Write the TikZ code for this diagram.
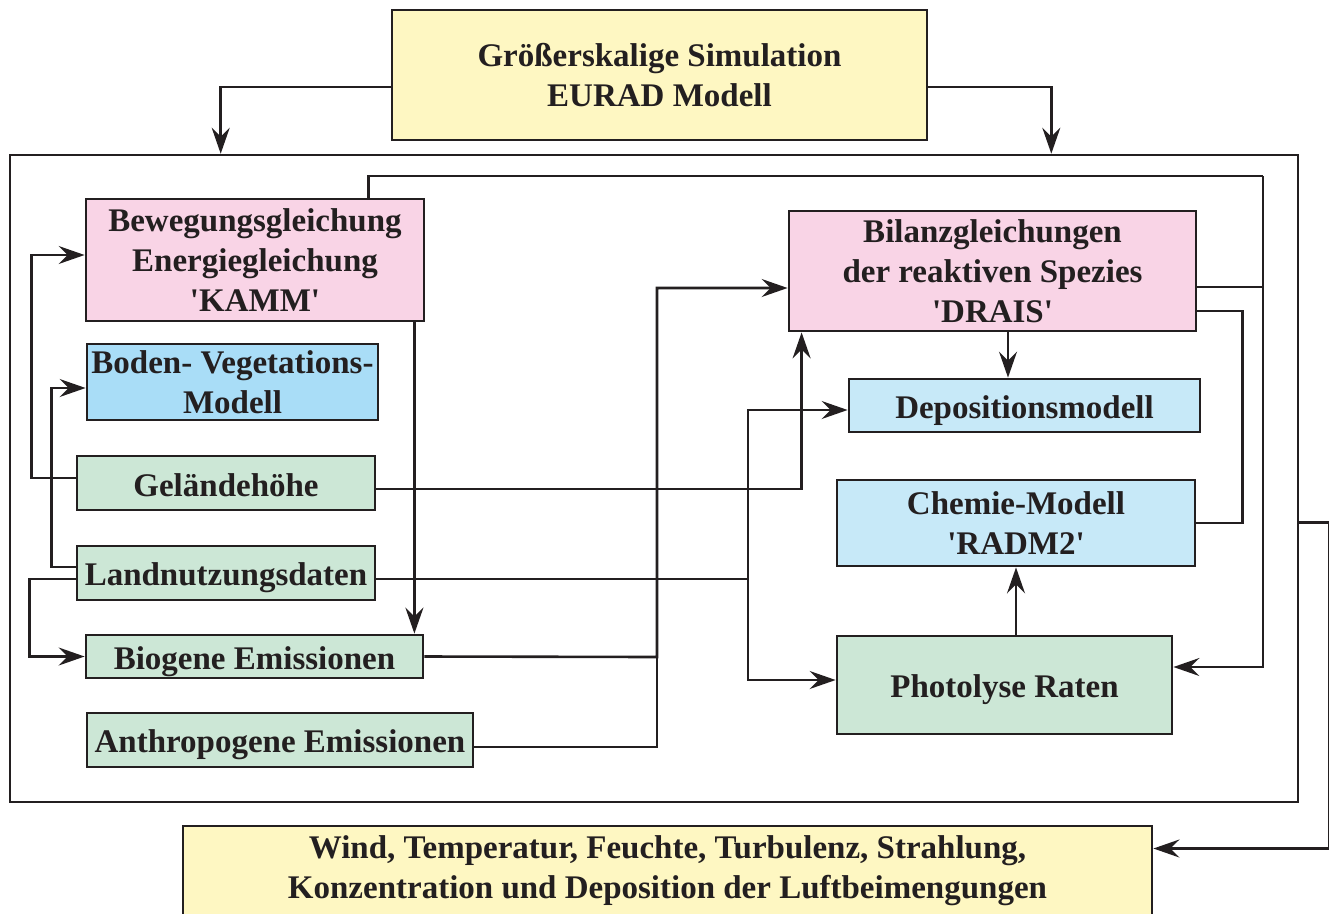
\documentclass[tikz,border=0pt]{standalone}
\usepackage{fontspec}
\setmainfont{Liberation Serif}
\usetikzlibrary{arrows.meta}
\definecolor{ink}{HTML}{231F20}
\definecolor{cyellow}{HTML}{FEF7C2}
\definecolor{cpink}{HTML}{F9D4E6}
\definecolor{cblue}{HTML}{A9DDF7}
\definecolor{clightblue}{HTML}{C7E9F8}
\definecolor{cgreen}{HTML}{CCE7D6}
\newcommand{\q}{\textquotesingle}
\tikzset{
  box/.style={draw=ink, line width=2.8pt, align=center, inner sep=0pt,
    text=ink, font=\fontsize{33}{40}\selectfont\bfseries},
  single/.style={box,
    execute at begin node={\rule{0pt}{33pt}},
    execute at end node={\rule[-7pt]{0pt}{7pt}}},
  multi/.style={box, execute at begin node={\rule{0pt}{#1}}},
  multi/.default=30pt,
  link/.style={draw=ink, line width=2.6pt},
  arr/.style={link, -{Stealth[length=26pt,width=18pt,inset=9pt]}},
}
\begin{document}
\begin{tikzpicture}[x=1pt,y=-1pt]
\useasboundingbox (0,0) rectangle (1329,913);

% outer frame of the regional model
\node[draw=ink, line width=2.6pt, minimum width=1288pt, minimum height=647pt, inner sep=0pt] (frame) at (654,478.5) {};

% boxes
\node[multi=34pt, fill=cyellow, minimum width=535pt, minimum height=130pt] (top) at (659.5,75) {Größerskalige Simulation\\EURAD Modell};
\node[multi=32pt, fill=cpink, minimum width=338pt, minimum height=122pt] (kamm) at (255,260) {Bewegungsgleichung\\Energiegleichung\\\q KAMM\q};
\node[multi, fill=cblue, minimum width=291pt, minimum height=76pt] (boden) at (232.5,382) {Boden- Vegetations-\\Modell};
\node[single, fill=cgreen, minimum width=298pt, minimum height=54pt] (geo) at (226,483) {Geländehöhe};
\node[single, fill=cgreen, minimum width=298pt, minimum height=54pt] (land) at (226,573) {Landnutzungsdaten};
\node[single, fill=cgreen, minimum width=337pt, minimum height=43pt] (bio) at (254.5,656.5) {Biogene Emissionen};
\node[single, fill=cgreen, minimum width=386pt, minimum height=54pt] (anth) at (280,740) {Anthropogene Emissionen};
\node[multi=33pt, fill=cpink, minimum width=407pt, minimum height=120pt] (bil) at (992.5,271) {Bilanzgleichungen\\der reaktiven Spezies\\\q DRAIS\q};
\node[single, fill=clightblue, minimum width=351pt, minimum height=53pt] (dep) at (1024.5,405.5) {Depositionsmodell};
\node[multi, fill=clightblue, minimum width=358pt, minimum height=86pt] (chem) at (1016,523) {Chemie-Modell\\\q RADM2\q};
\node[single, fill=cgreen, minimum width=335pt, minimum height=98pt] (phot) at (1004.5,685) {Photolyse Raten};
\node[multi=40pt, fill=cyellow, minimum width=969pt, minimum height=89pt] (bot) at (667.5,870.5) {Wind, Temperatur, Feuchte, Turbulenz, Strahlung,\\Konzentration und Deposition der Luftbeimengungen};

% junction points
\coordinate (rt) at (1263,176);
\coordinate (emis) at (657,657);
\coordinate (lnd) at (748,579);

% boundary values from the large-scale model
\draw[arr] ([yshift=-12pt]top.west) -| ([xshift=212pt]frame.north west);
\draw[arr] ([yshift=-12pt]top.east) -| ([xshift=-248pt]frame.north east);

% left-hand inputs
\draw[arr] ([yshift=5pt]geo.west) -- ++(-44,0) |- ([yshift=5pt]kamm.west);
\draw[arr] ([yshift=6pt]land.west) -- ++(-24,0) |- ([yshift=-6pt]boden.west);
\draw[arr] ([yshift=-6pt]land.west) -- ++(-46,0) |- (bio.west);
\draw[arr] ([xshift=-11pt]kamm.south east) -- ([xshift=-11pt]kamm.south east |- bio.north);

% meteorology to the chemistry side
\draw[link] ([xshift=-57pt]kamm.north east) |- (rt);
\draw[arr] (rt) |- ([yshift=18pt]phot.east);
\draw[link] ([yshift=-16pt]bil.east) -- ++(67,0);
\draw[link] ([yshift=-40pt]bil.east) -- ++(45,0) |- (chem.east);

% terrain height
\draw[arr] ([yshift=-6pt]geo.east) -| ([xshift=14pt]bil.south west);

% emissions
\draw[arr] (bio.east) -- (emis) |- ([yshift=-17pt]bil.west);
\draw[link] ([yshift=-7pt]anth.east) -| (emis);

% land use
\draw[link] ([yshift=-6pt]land.east) -- (lnd);
\draw[arr] (lnd) |- ([yshift=-4.5pt]dep.west);
\draw[arr] (lnd) |- ([yshift=5pt]phot.west);

% right-hand chain
\draw[arr] ([xshift=15.5pt]bil.south) -- ([xshift=15.5pt]bil.south |- dep.north);
\draw[arr] ([xshift=11.5pt]phot.north) -- ([xshift=11.5pt]phot.north |- chem.south);

% results
\draw[arr] ([yshift=-44pt]frame.east) -- ++(30,0) |- ([yshift=22pt]bot.east);
\end{tikzpicture}
\end{document}
